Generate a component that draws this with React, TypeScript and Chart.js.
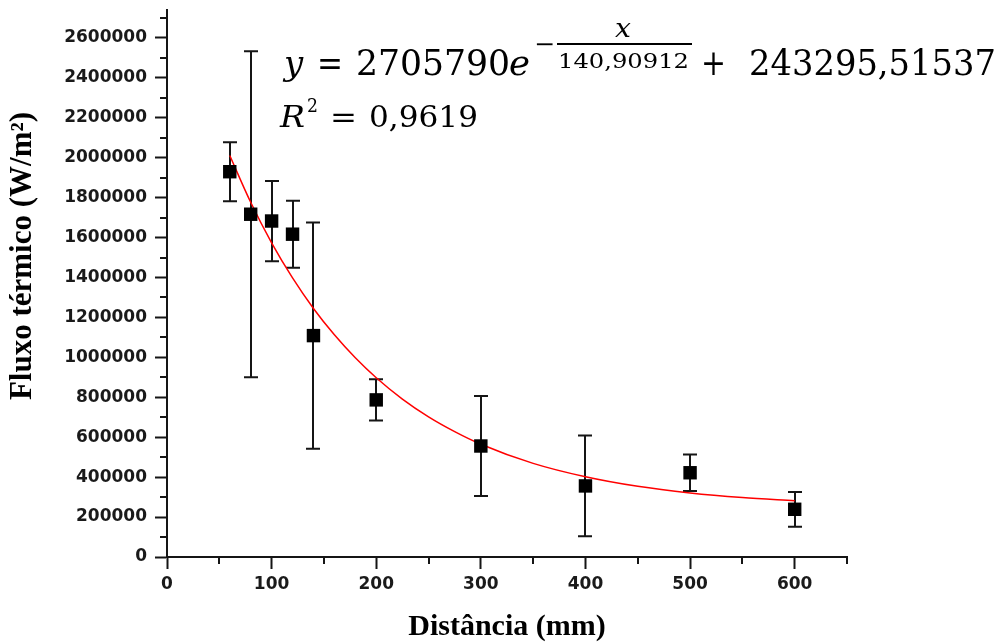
import { useEffect, useRef } from 'react';
import { Chart, registerables } from 'chart.js';

Chart.register(...registerables);

// ---- data ----
const distances = [60, 80, 100, 120, 140, 200, 300, 400, 500, 600];
const fluxValues = [1930000, 1717000, 1683000, 1617000, 1109000, 787000, 556000, 356000, 422000, 239000];
const fluxErrors = [148000, 816000, 201000, 168000, 567000, 103000, 250000, 252000, 91000, 87000];

const fitDistances = [60, 80, 100, 120, 140, 160, 180, 200, 225, 250, 275, 300, 350, 400, 450, 500, 550, 600];
const fitValues = [2011000, 1777000, 1574000, 1398000, 1245000, 1113000, 998000, 898000, 791000, 702000, 628000, 565000, 469000, 402000, 354000, 321000, 298000, 282000];

const xTickValues = [0, 100, 200, 300, 400, 500, 600];
const xTickLabels = ['0', '100', '200', '300', '400', '500', '600'];
const xMinorTicks = [50, 150, 250, 350, 450, 550, 650];

const yTickValues = [0, 200000, 400000, 600000, 800000, 1000000, 1200000, 1400000, 1600000, 1800000, 2000000, 2200000, 2400000, 2600000];
const yTickLabels = ['0', '200000', '400000', '600000', '800000', '1000000', '1200000', '1400000', '1600000', '1800000', '2000000', '2200000', '2400000', '2600000'];
const yMinorTicks = [100000, 300000, 500000, 700000, 900000, 1100000, 1300000, 1500000, 1700000, 1900000, 2100000, 2300000, 2500000, 2700000];

const xTitle = 'Distância (mm)';
const yTitle = 'Fluxo térmico (W/m²)';

const AXIS = '#151515';

function stretchText(
  ctx: CanvasRenderingContext2D,
  text: string,
  font: string,
  x: number,
  baseline: number,
  width?: number,
  align: 'left' | 'center' = 'left'
) {
  ctx.save();
  ctx.font = font;
  ctx.textBaseline = 'alphabetic';
  ctx.textAlign = 'left';
  const w = ctx.measureText(text).width;
  const sx = width ? width / w : 1;
  const left = align === 'center' ? x - (w * sx) / 2 : x;
  ctx.translate(left, baseline);
  ctx.scale(sx, 1);
  ctx.fillStyle = '#000';
  ctx.fillText(text, 0, 0);
  ctx.restore();
}

const errorBarPlugin = {
  id: 'errorBars',
  beforeDatasetsDraw(chart: any) {
    const { ctx, scales } = chart;
    const xs = scales.x;
    const ys = scales.y;
    ctx.save();
    ctx.strokeStyle = AXIS;
    ctx.lineWidth = 2;
    distances.forEach((d, i) => {
      const px = Math.round(xs.getPixelForValue(d));
      const top = ys.getPixelForValue(fluxValues[i] + fluxErrors[i]);
      const bot = ys.getPixelForValue(fluxValues[i] - fluxErrors[i]);
      ctx.beginPath();
      ctx.moveTo(px, top);
      ctx.lineTo(px, bot);
      ctx.moveTo(px - 7, top);
      ctx.lineTo(px + 7, top);
      ctx.moveTo(px - 7, bot);
      ctx.lineTo(px + 7, bot);
      ctx.stroke();
    });
    ctx.restore();
  },
};

const decorPlugin = {
  id: 'decor',
  afterDraw(chart: any) {
    const { ctx, scales, chartArea } = chart;
    const xs = scales.x;
    const ys = scales.y;
    // minor ticks
    ctx.save();
    ctx.strokeStyle = AXIS;
    ctx.lineWidth = 2;
    ctx.beginPath();
    yMinorTicks.forEach((v) => {
      const py = Math.round(ys.getPixelForValue(v));
      ctx.moveTo(chartArea.left - 7, py);
      ctx.lineTo(chartArea.left, py);
    });
    xMinorTicks.forEach((v) => {
      const px = Math.round(xs.getPixelForValue(v));
      ctx.moveTo(px, chartArea.bottom);
      ctx.lineTo(px, chartArea.bottom + 7);
    });
    ctx.stroke();
    ctx.restore();

    // y axis title
    ctx.save();
    ctx.translate(23, 256);
    ctx.rotate(-Math.PI / 2);
    ctx.font = 'bold 31px "Liberation Serif"';
    ctx.textAlign = 'center';
    ctx.textBaseline = 'middle';
    ctx.fillStyle = '#000';
    ctx.fillText(yTitle, 0, 0);
    ctx.restore();

    // equation
    const big = '36px "DejaVu Serif"';
    const bigIt = 'italic 36px "DejaVu Serif"';
    stretchText(ctx, 'y', 'italic 34px "DejaVu Serif"', 284, 75);
    stretchText(ctx, '=', big, 317, 75, 26);
    stretchText(ctx, '2705790', big, 356, 75, 154);
    stretchText(ctx, 'e', bigIt, 509, 75, 21);
    stretchText(ctx, '−', '24px "DejaVu Serif"', 534, 52, 21);
    ctx.save();
    ctx.fillStyle = '#000';
    ctx.fillRect(557, 43, 135, 2);
    ctx.restore();
    stretchText(ctx, 'x', 'italic 26px "DejaVu Serif"', 623, 37, 16, 'center');
    stretchText(ctx, '140,90912', '20px "DejaVu Serif"', 558, 68, 131);
    stretchText(ctx, '+', big, 701, 75, 25);
    stretchText(ctx, '243295,51537', big, 749, 75, 247);

    const mid = '30px "DejaVu Serif"';
    stretchText(ctx, 'R', 'italic 30px "DejaVu Serif"', 280, 127, 25);
    stretchText(ctx, '2', '19px "DejaVu Serif"', 307, 112, 11);
    stretchText(ctx, '=', mid, 330, 127, 27);
    stretchText(ctx, '0,9619', mid, 369, 127, 109);
  },
};

export default function App() {
  const canvasRef = useRef<HTMLCanvasElement | null>(null);

  useEffect(() => {
    const canvas = canvasRef.current;
    if (!canvas) return;
    const tickFont = { family: '"DejaVu Sans"', weight: 'bold' as const, size: 17 };
    const chart = new Chart(canvas, {
      type: 'scatter',
      data: {
        datasets: [
          {
            type: 'scatter',
            data: distances.map((d, i) => ({ x: d, y: fluxValues[i] })),
            pointStyle: 'rect',
            pointRadius: 9.5,
            pointHoverRadius: 9.5,
            backgroundColor: '#000',
            borderColor: '#000',
            borderWidth: 0,
          },
          {
            type: 'line',
            data: fitDistances.map((d, i) => ({ x: d, y: fitValues[i] })),
            borderColor: '#ff0000',
            borderWidth: 1.5,
            pointRadius: 0,
            fill: false,
            cubicInterpolationMode: 'monotone',
          } as any,
        ],
      },
      options: {
        animation: false,
        responsive: false,
        devicePixelRatio: 1,
        layout: { padding: { left: 0, right: 156, top: 10, bottom: 0 } },
        plugins: { legend: { display: false }, tooltip: { enabled: false } },
        events: [],
        scales: {
          x: {
            type: 'linear',
            min: 0,
            max: 650,
            afterBuildTicks: (scale: any) => {
              scale.ticks = xTickValues.map((v) => ({ value: v }));
            },
            afterFit: (scale: any) => {
              scale.height = 86;
              scale.paddingLeft = 0;
              scale.paddingRight = 0;
            },
            ticks: {
              callback: (_v: any, i: number) => xTickLabels[i],
              font: tickFont,
              color: '#1a1a1a',
              padding: 5,
              maxRotation: 0,
            },
            grid: { drawOnChartArea: false, drawTicks: true, tickLength: 12, tickWidth: 2, tickColor: AXIS },
            border: { display: true, width: 2, color: AXIS },
            title: {
              display: true,
              text: xTitle,
              color: '#000',
              font: { family: '"Liberation Serif"', weight: 'bold', size: 30, lineHeight: 1 },
              padding: { top: 0, bottom: 1 },
            },
          },
          y: {
            type: 'linear',
            min: 0,
            max: 2740000,
            afterBuildTicks: (scale: any) => {
              scale.ticks = yTickValues.map((v) => ({ value: v }));
            },
            afterFit: (scale: any) => {
              scale.width = 167;
              scale.paddingTop = 0;
              scale.paddingBottom = 0;
            },
            ticks: {
              callback: (_v: any, i: number) => yTickLabels[i],
              font: tickFont,
              color: '#1a1a1a',
              padding: 8,
            },
            grid: { drawOnChartArea: false, drawTicks: true, tickLength: 12, tickWidth: 2, tickColor: AXIS },
            border: { display: true, width: 2, color: AXIS },
          },
        },
      },
      plugins: [errorBarPlugin, decorPlugin],
    });
    return () => chart.destroy();
  }, []);

  return (
    <div style={{ position: 'fixed', left: 0, top: 0, width: 1003, height: 643, background: '#fff' }}>
      <canvas ref={canvasRef} width={1003} height={643} style={{ display: 'block' }} />
    </div>
  );
}
